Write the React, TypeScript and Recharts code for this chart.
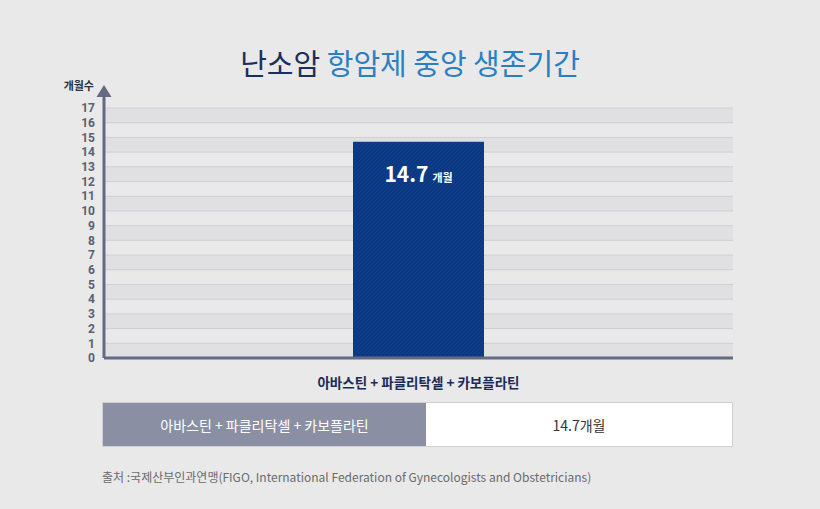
import { BarChart, Bar, XAxis, YAxis, CartesianGrid, LabelList } from "recharts";

const regimens = ["아바스틴 + 파클리탁셀 + 카보플라틴"];
const medianMonths = [14.7];
const yTicks = [0, 1, 2, 3, 4, 5, 6, 7, 8, 9, 10, 11, 12, 13, 14, 15, 16, 17];

const data = regimens.map((name, i) => ({ name, months: medianMonths[i] }));

const FONT = "'Noto Sans CJK KR', 'Noto Sans', sans-serif";
const AXIS = "#646a84";

function AxisArrow(props: any) {
  const vb = props.viewBox;
  if (!vb) return null;
  const ax = vb.x + vb.width;
  const top = vb.y;
  const bottom = vb.y + vb.height;
  return (
    <g>
      <line x1={ax} y1={bottom} x2={ax} y2={top - 14} stroke={AXIS} strokeWidth={3} />
      <polygon
        points={`${ax - 7.5},${top - 11} ${ax + 7.5},${top - 11} ${ax},${top - 23}`}
        fill={AXIS}
      />
      <text
        x={ax - 10}
        y={top - 18}
        textAnchor="end"
        fontSize={11}
        fontWeight={700}
        fill="#2b3040"
        fontFamily={FONT}
      >
        개월수
      </text>
    </g>
  );
}

function CategoryTick(props: any) {
  const { x, y, payload } = props;
  return (
    <text
      x={x}
      y={y + 22}
      textAnchor="middle"
      fontSize={13.5}
      fontWeight={700}
      fill="#1c2a56"
      fontFamily={FONT}
    >
      {payload.value}
    </text>
  );
}

function BarValue(props: any) {
  const { x, y, width, value } = props;
  return (
    <text x={x + width / 2} y={y + 40} textAnchor="middle" fill="#fff" fontFamily={FONT}>
      <tspan fontSize={21} fontWeight={700}>{value}</tspan>
      <tspan fontSize={11} fontWeight={700} dx={4}>개월</tspan>
    </text>
  );
}

export default function App() {
  return (
    <div
      style={{
        position: "absolute",
        left: 0,
        top: 0,
        width: 820,
        height: 509,
        background: "#e9e9e9",
        fontFamily: FONT,
        overflow: "hidden",
      }}
    >
      <div
        style={{
          position: "absolute",
          top: 42,
          left: 0,
          width: 820,
          textAlign: "center",
          fontSize: 29,
          lineHeight: "40px",
          color: "#2a7fc4",
        }}
      >
        <span style={{ color: "#1b2f5e" }}>난소암</span> 항암제 중앙 생존기간
      </div>

      <div style={{ position: "absolute", top: 0, left: 0 }}>
        <BarChart
          width={820}
          height={400}
          data={data}
          margin={{ top: 108, right: 87, bottom: 12, left: 60 }}
        >
          <defs>
            <pattern id="hatch" width="4" height="4" patternUnits="userSpaceOnUse">
              <rect width="4" height="4" fill="#0a3882" />
              <path d="M-1,1 l2,-2 M0,4 l4,-4 M3,5 l2,-2" stroke="#10408a" strokeWidth={1} />
            </pattern>
          </defs>
          <CartesianGrid
            vertical={false}
            stroke="#cfcfd1"
            horizontalFill={["#e0e0e2", "#e9e9e9"]}
            fillOpacity={1}
          />
          <XAxis
            dataKey="name"
            axisLine={{ stroke: AXIS, strokeWidth: 3 }}
            tickLine={false}
            height={30}
            tick={<CategoryTick />}
          />
          <YAxis
            domain={[0, 17]}
            ticks={yTicks}
            interval={0}
            width={44}
            axisLine={false}
            tickLine={false}
            tickMargin={3}
            tick={{ fontSize: 12, fontWeight: 700, fill: "#5a5f75", fontFamily: "Roboto, sans-serif" }}
            label={{ content: <AxisArrow /> }}
          />
          <Bar dataKey="months" fill="url(#hatch)" barSize={131} isAnimationActive={false}>
            <LabelList dataKey="months" content={<BarValue />} />
          </Bar>
        </BarChart>
      </div>

      <div
        style={{
          position: "absolute",
          left: 102,
          top: 402,
          width: 631,
          height: 45,
          display: "flex",
          fontSize: 14,
          boxSizing: "border-box",
          border: "1px solid #cfcfcf",
          background: "#fff",
        }}
      >
        <div
          style={{
            width: 323,
            background: "#8a8fa4",
            color: "#fff",
            display: "flex",
            alignItems: "center",
            justifyContent: "center",
          }}
        >
          {regimens[0]}
        </div>
        <div
          style={{
            flex: 1,
            color: "#333",
            display: "flex",
            alignItems: "center",
            justifyContent: "center",
          }}
        >
          {medianMonths[0]}개월
        </div>
      </div>

      <div
        style={{
          position: "absolute",
          left: 102,
          top: 468,
          fontSize: 12,
          color: "#6b6b6b",
          whiteSpace: "nowrap",
        }}
      >
        출처 :국제산부인과연맹(FIGO, International Federation of Gynecologists and Obstetricians)
      </div>
    </div>
  );
}
